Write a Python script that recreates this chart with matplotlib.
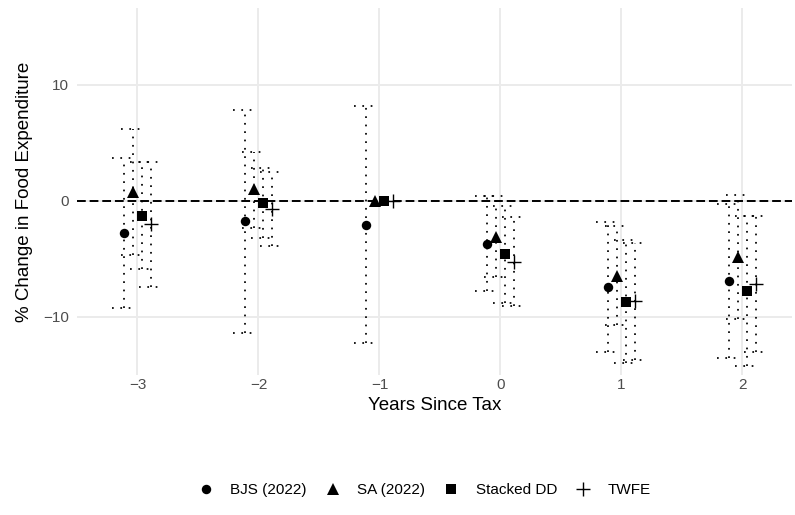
import matplotlib.pyplot as plt
from matplotlib.lines import Line2D
import numpy as np

plt.rcParams['font.family'] = ['Liberation Sans', 'DejaVu Sans']

# event-study estimates (% change in food expenditure) by years since tax
years = np.array([-3, -2, -1, 0, 1, 2])
labels = ["BJS (2022)", "SA (2022)", "Stacked DD", "TWFE"]
nan = np.nan

bjs = [-2.78, -1.77, -2.05, -3.68, -7.40, -6.90]
bjs_lo = [-9.24, -11.40, -12.25, -7.75, -13.00, -13.50]
bjs_hi = [3.68, 7.86, 8.18, 0.40, -1.80, -0.30]

sa = [0.80, 1.00, 0.00, -3.10, -6.45, -4.85]
sa_lo = [-4.65, -2.30, nan, -6.60, -10.70, -10.20]
sa_hi = [6.20, 4.20, nan, 0.40, -2.20, 0.50]

stacked = [-1.30, -0.20, 0.00, -4.62, -8.70, -7.80]
stacked_lo = [-5.90, -3.20, nan, -8.76, -14.00, -14.20]
stacked_hi = [3.35, 2.80, nan, -0.48, -3.40, -1.35]

twfe = [-2.00, -0.68, 0.00, -5.24, -8.65, -7.20]
twfe_lo = [-7.40, -3.90, nan, -9.10, -13.70, -13.00]
twfe_hi = [3.38, 2.50, nan, -1.40, -3.60, -1.35]

series = [(bjs, bjs_lo, bjs_hi), (sa, sa_lo, sa_hi),
          (stacked, stacked_lo, stacked_hi), (twfe, twfe_lo, twfe_hi)]

# marker styles: circle, triangle, square, plus
markers = [dict(marker='o', ms=6.8, mew=0),
           dict(marker='^', ms=8.2, mew=0),
           dict(marker='s', ms=7.2, mew=0),
           dict(marker='+', ms=9.5, mew=1.0)]

dodge = 0.3
offsets = (np.arange(4) - 1.5) * dodge / 4
cap = 0.1
dotted = (0, (1, 3.8))

fig = plt.figure(figsize=(7.95, 5.15), dpi=100)
ax = fig.add_axes([77 / 795, 1 - 375 / 515, (792 - 77) / 795, (375 - 8) / 515])

ax.axhline(0, color='black', linestyle=(0, (4.5, 2)), linewidth=1.4, zorder=2)

for (est, lo, hi), off, mk in zip(series, offsets, markers):
    x = years + off
    lo = np.array(lo)
    hi = np.array(hi)
    ok = ~np.isnan(lo)
    ax.vlines(x[ok], lo[ok], hi[ok], colors='black', linestyles=dotted,
              linewidth=1.25, zorder=3)
    ax.hlines(lo[ok], x[ok] - cap, x[ok] + cap, colors='black',
              linestyles=dotted, linewidth=1.25, zorder=3)
    ax.hlines(hi[ok], x[ok] - cap, x[ok] + cap, colors='black',
              linestyles=dotted, linewidth=1.25, zorder=3)
    ax.plot(x, est, linestyle='none', color='black', zorder=4, **mk)

ax.set_xlim(-3.5, 2.41)
ax.set_ylim(-15.0, 16.6)
ax.set_xticks(years)
ax.set_yticks([-10, 0, 10])
ax.grid(color='#EBEBEB', linewidth=1.4)
ax.set_axisbelow(True)
for s in ax.spines.values():
    s.set_visible(False)
ax.tick_params(length=0, labelsize=11, labelcolor='#4D4D4D')
ax.tick_params(axis='x', pad=2.5)
ax.tick_params(axis='y', pad=6)

ax.set_xlabel("Years Since Tax", fontsize=13.5, labelpad=3)
ax.set_ylabel("% Change in Food Expenditure", fontsize=13.5, labelpad=7)

handles = [Line2D([], [], linestyle='none', color='black', **mk) for mk in markers]
fig.legend(handles, labels, loc='center', bbox_to_anchor=(0.534, 0.048), ncol=4,
           frameon=False, fontsize=11, handlelength=1.0, handletextpad=1.1,
           columnspacing=1.2)

fig.savefig("out.png", dpi=100)
